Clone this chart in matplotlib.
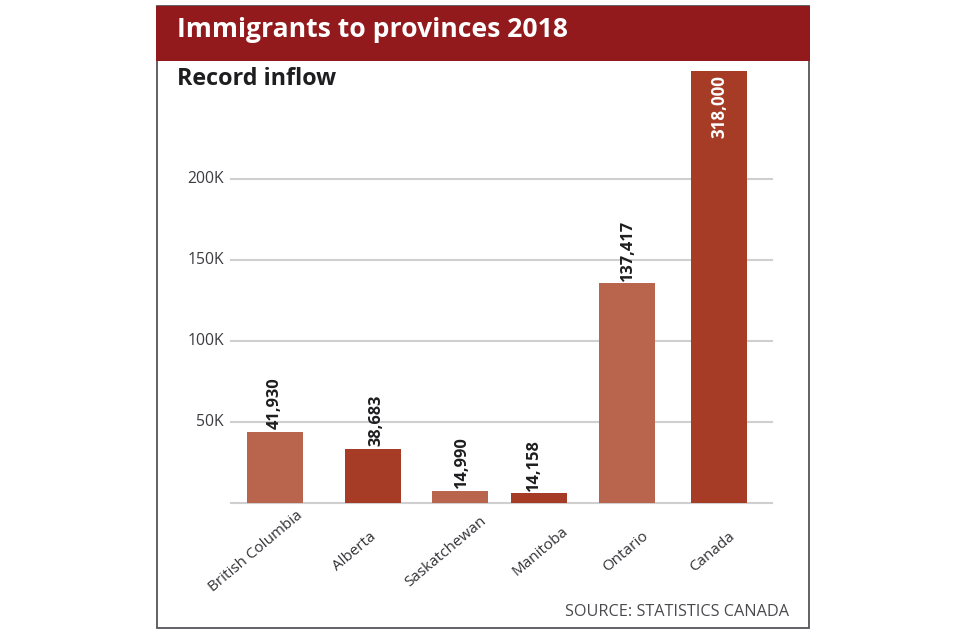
import matplotlib
matplotlib.use("Agg")
import matplotlib.pyplot as plt
from matplotlib.patches import Rectangle

categories = ["British Columbia", "Alberta", "Saskatchewan", "Manitoba", "Ontario", "Canada"]
bar_heights = [44, 33.5, 7.5, 6, 135.5, 266.5]   # heights as drawn, thousands
value_labels = ["41,930", "38,683", "14,990", "14,158", "137,417", "318,000"]
bar_colors = ["#B9644C", "#A63C25", "#B9644C", "#A63C25", "#B9644C", "#A63C25"]
bar_centers = [275, 373, 460, 539, 627, 719]
value_centers = [275, 376, 462, 534, 628, 719]
label_centers = [256, 355, 446, 540, 626, 712]
tick_values = [0, 50, 100, 150, 200]
tick_labels = ["", "50K", "100K", "150K", "200K"]

W, H = 960, 635
plt.rcParams["font.family"] = ["Open Sans", "DejaVu Sans"]
fig = plt.figure(figsize=(W / 100, H / 100), dpi=100, facecolor="white")

def fx(p): return p / W
def fy(p): return 1 - p / H

# frame and header
frame = Rectangle((fx(157), fy(628)), 652 / W, 622 / H, transform=fig.transFigure,
                  fc="white", ec="#55555A", lw=1.3, zorder=-2)
header = Rectangle((fx(156), fy(61)), 654 / W, 55 / H, transform=fig.transFigure,
                   fc="#931A1C", ec="none", zorder=-1)
fig.add_artist(frame)
fig.add_artist(header)
fig.text(fx(177), fy(30), "Immigrants to provinces 2018", color="white", fontsize=19.1,
         fontweight="bold", va="center", ha="left")
fig.text(fx(177), fy(79), "Record inflow", color="#1E1E20", fontsize=16.8,
         fontweight="bold", va="center", ha="left")
fig.text(fx(789), fy(612), "SOURCE: STATISTICS CANADA", color="#4A4A4E", fontsize=11.7,
         va="center", ha="right")

# chart axes: x in image-width units, y in thousands
y0, ytop = 503, 61
ax = fig.add_axes([fx(231), fy(y0), (772 - 231) / W, (y0 - ytop) / H])
ax.patch.set_alpha(0)
ax.set_xlim(231, 772)
ax.set_ylim(0, (y0 - ytop) / 1.62)
for s in ax.spines.values():
    s.set_visible(False)
ax.set_yticks(tick_values)
ax.set_yticklabels(tick_labels, fontsize=11.3, color="#3C3C40", va="center")
ax.tick_params(axis="y", length=0, pad=5)
ax.grid(axis="y", color="#CFCFCF", lw=1.5, zorder=0, clip_on=False)
ax.set_axisbelow(True)
ax.bar(bar_centers, bar_heights, width=56, color=bar_colors, zorder=3)

ax.set_xticks(bar_centers)
ax.set_xticklabels([])
ax.tick_params(axis="x", length=0)
for c, n in zip(label_centers, categories):
    ax.annotate(n, (c, 0), xytext=(0, -35), textcoords="offset points", rotation=40,
                ha="center", va="center", fontsize=11, color="#333337")

for c, h, t in zip(value_centers, bar_heights, value_labels):
    if t == "318,000":
        ax.annotate(t, (c, h), xytext=(0, -3), textcoords="offset points", rotation=90, ha="center",
                    va="top", color="white", fontsize=12.2, fontweight="bold")
    else:
        ax.annotate(t, (c, h), xytext=(0, 2), textcoords="offset points", rotation=90, ha="center",
                    va="bottom", color="#1E1E20", fontsize=11.8, fontweight="bold", zorder=4)

fig.savefig("out.png", dpi=100, facecolor="white")
